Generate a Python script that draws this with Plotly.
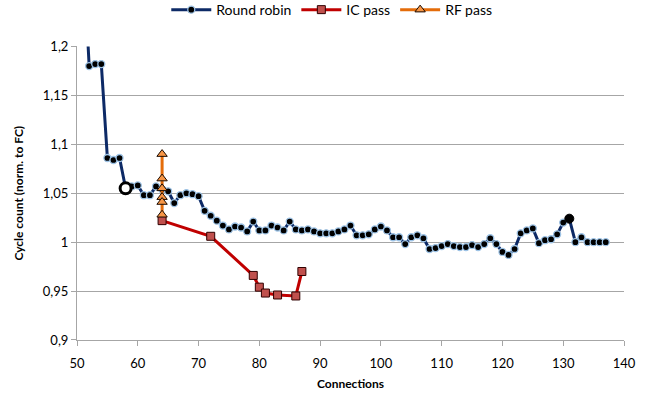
import plotly.graph_objects as go

# Round robin: cycle count (normalised to FC) per number of connections
rr_x = list(range(51, 138))
rr_y = [1.30, 1.180, 1.182, 1.182, 1.086, 1.084, 1.086, 1.055, 1.057, 1.058,
        1.048, 1.048, 1.057, 1.054, 1.052, 1.040, 1.048, 1.050, 1.049, 1.047,
        1.032, 1.027, 1.022, 1.017, 1.013, 1.016, 1.015, 1.011, 1.021, 1.012,
        1.012, 1.017, 1.015, 1.012, 1.021, 1.013, 1.012, 1.013, 1.011, 1.009,
        1.009, 1.009, 1.011, 1.013, 1.017, 1.007, 1.007, 1.008, 1.013, 1.016,
        1.012, 1.005, 1.005, 0.998, 1.005, 1.007, 1.004, 0.993, 0.994, 0.996,
        0.998, 0.996, 0.995, 0.995, 0.997, 0.995, 0.998, 1.004, 0.998, 0.990,
        0.987, 0.993, 1.009, 1.012, 1.014, 0.999, 1.002, 1.003, 1.008, 1.020,
        1.024, 1.000, 1.005, 1.000, 1.000, 1.000, 1.000]

# Emphasised round-robin points
rr_open_x = 58      # hollow marker
rr_solid_x = 131    # large solid marker

# IC pass
ic_x = [64, 72, 79, 80, 81, 83, 86, 87]
ic_y = [1.022, 1.006, 0.966, 0.954, 0.948, 0.946, 0.945, 0.970]

# RF pass
rf_x = [64, 64, 64, 64, 64, 64]
rf_y = [1.090, 1.065, 1.055, 1.046, 1.041, 1.028]

x_ticks = [50, 60, 70, 80, 90, 100, 110, 120, 130, 140]
y_ticks = [0.9, 0.95, 1.0, 1.05, 1.1, 1.15, 1.2]
y_tick_labels = ["0,9", "0,95", "1", "1,05", "1,1", "1,15", "1,2"]

FONT = "Lato, 'Open Sans', sans-serif"

fig = go.Figure()
fig.add_trace(go.Scatter(
    x=rr_x, y=rr_y, name="Round robin", mode="lines+markers",
    line=dict(color="#0d2a66", width=3),
    marker=dict(symbol="circle", size=7, color="black",
                line=dict(color="#9dc3e6", width=1.3)),
))

# highlighted round-robin points drawn on top of the series
i_open = rr_x.index(rr_open_x)
i_solid = rr_x.index(rr_solid_x)
fig.add_trace(go.Scatter(
    x=[rr_x[i_open]], y=[rr_y[i_open]], mode="markers", showlegend=False,
    marker=dict(symbol="circle", size=11, color="white",
                line=dict(color="black", width=3)),
))
fig.add_trace(go.Scatter(
    x=[rr_x[i_solid]], y=[rr_y[i_solid]], mode="markers", showlegend=False,
    marker=dict(symbol="circle", size=9, color="black",
                line=dict(color="black", width=1)),
))

fig.add_trace(go.Scatter(
    x=ic_x, y=ic_y, name="IC pass", mode="lines+markers",
    line=dict(color="#c00000", width=3),
    marker=dict(symbol="square", size=8, color="#c0504d",
                line=dict(color="#300000", width=1)),
))
fig.add_trace(go.Scatter(
    x=rf_x, y=rf_y, name="RF pass", mode="lines+markers",
    line=dict(color="#e46c0a", width=3),
    marker=dict(symbol="triangle-up", size=9, color="#f79646",
                line=dict(color="#1a0a00", width=1)),
))

fig.update_layout(
    width=648, height=401,
    margin=dict(l=77, r=22, t=43, b=57),
    paper_bgcolor="white", plot_bgcolor="white",
    font=dict(family=FONT, size=12, color="#000000"),
    showlegend=True,
    legend=dict(orientation="h", xref="container", yref="container",
                x=0.512, xanchor="center", y=0.975, yanchor="middle",
                font=dict(size=14), itemwidth=40, tracegroupgap=0,
                bgcolor="rgba(0,0,0,0)"),
    xaxis=dict(range=[50, 140], tickvals=x_ticks, ticktext=[str(v) for v in x_ticks],
               showgrid=False, zeroline=False, showline=True, linecolor="#a6a6a6",
               linewidth=1, ticks="outside", ticklen=5, tickcolor="#a6a6a6",
               tickfont=dict(size=13), ticklabelstandoff=6,
               title=dict(text="<b>Connections</b>", font=dict(size=12), standoff=10)),
    yaxis=dict(range=[0.9, 1.2], tickvals=y_ticks, ticktext=y_tick_labels,
               showgrid=True, gridcolor="#a6a6a6", gridwidth=1, zeroline=False,
               showline=True, linecolor="#a6a6a6", linewidth=1,
               ticks="outside", ticklen=5, tickcolor="#a6a6a6",
               tickfont=dict(size=13),
               title=dict(text="<b>Cycle count (norm. to FC)</b>", font=dict(size=12), standoff=16)),
)

fig.write_html("out.html")
